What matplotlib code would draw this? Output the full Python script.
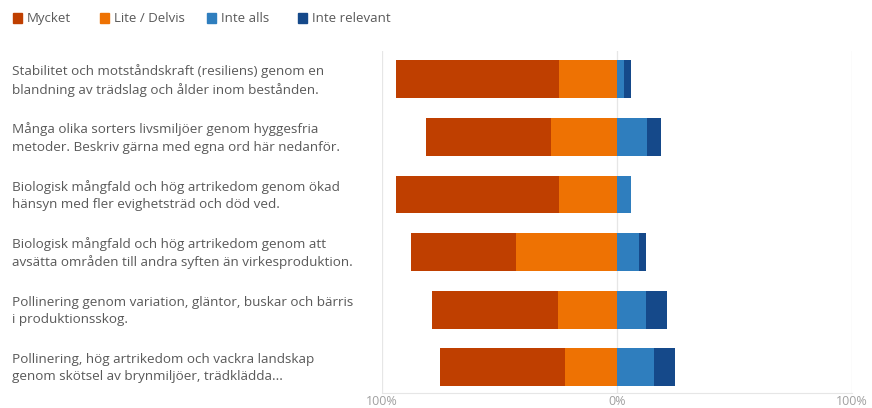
import numpy as np
import matplotlib.pyplot as plt
from matplotlib.transforms import blended_transform_factory

plt.rcParams['font.family'] = ['Open Sans', 'DejaVu Sans']

categories = [
    "Stabilitet och motståndskraft (resiliens) genom en\nblandning av trädslag och ålder inom bestånden.",
    "Många olika sorters livsmiljöer genom hyggesfria\nmetoder. Beskriv gärna med egna ord här nedanför.",
    "Biologisk mångfald och hög artrikedom genom ökad\nhänsyn med fler evighetsträd och död ved.",
    "Biologisk mångfald och hög artrikedom genom att\navsätta områden till andra syften än virkesproduktion.",
    "Pollinering genom variation, gläntor, buskar och bärris\ni produktionsskog.",
    "Pollinering, hög artrikedom och vackra landskap\ngenom skötsel av brynmiljöer, trädklädda...",
]
series_names = ["Mycket", "Lite / Delvis", "Inte alls", "Inte relevant"]
mycket = [69.5, 53, 69.5, 44.5, 53.5, 53]
lite = [24.5, 28, 24.5, 43, 25, 22]
inte_alls = [3, 13, 6, 9.5, 12.5, 16]
inte_relevant = [3, 6, 0, 3, 9, 9]
tick_values = [-100, 0, 100]
tick_labels = ["100%", "0%", "100%"]

colors = ["#BF3F00", "#EE7203", "#2F7EBE", "#15498A"]

fig = plt.figure(figsize=(8.72, 4.08), dpi=100)
ax = fig.add_axes([0.4377, 0.0368, 0.539, 0.839])

y = np.arange(len(categories))
h = 0.66
mycket = np.array(mycket)
lite = np.array(lite)
inte_alls = np.array(inte_alls)
inte_relevant = np.array(inte_relevant)

# negative side: Lite next to zero, Mycket further out
ax.barh(y, -lite, height=h, color=colors[1], left=0)
ax.barh(y, -mycket, height=h, color=colors[0], left=-lite)
ax.barh(y, inte_alls, height=h, color=colors[2], left=0)
ax.barh(y, inte_relevant, height=h, color=colors[3], left=inte_alls)

ax.set_xlim(-100, 100)
ax.set_ylim(5.45, -0.5)
for v in tick_values:
    ax.axvline(v, color="#e6e6e6", lw=0.9, zorder=0)
ax.set_xticks(tick_values)
ax.set_xticklabels(tick_labels, color="#a0a0a0", fontsize=9)
ax.tick_params(axis="x", length=0, pad=1.5)
ax.set_yticks([])
for s in ["top", "right", "left"]:
    ax.spines[s].set_visible(False)
ax.spines["bottom"].set_color("#e6e6e6")

trans = blended_transform_factory(fig.transFigure, ax.transData)
for yi, lab in zip(y, categories):
    ax.text(12 / 872, yi + 0.02, lab, transform=trans, ha="left", va="center",
            fontsize=9.7, color="#595959", linespacing=1.42)

# legend across the top
leg_x = [13, 100, 207, 298]
for xi, name, c in zip(leg_x, series_names, colors):
    fig.patches.append(plt.Rectangle((xi / 872, 1 - 22.5 / 408), 9 / 872, 9 / 408,
                                     transform=fig.transFigure, color=c))
    fig.text((xi + 14) / 872, 1 - 18.5 / 408, name, ha="left", va="center",
             fontsize=9.5, color="#595959")

fig.savefig("out.png", dpi=100)
